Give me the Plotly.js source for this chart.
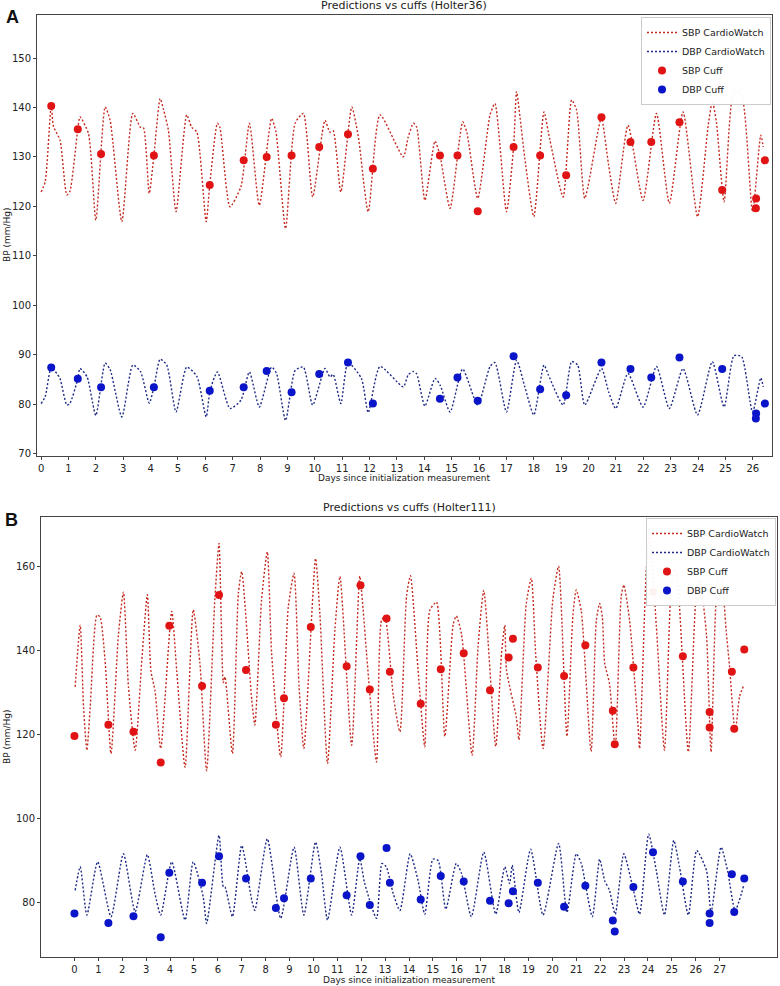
<!DOCTYPE html>
<html>
<head>
<meta charset="utf-8">
<script src="https://cdn.plot.ly/plotly-3.0.1.min.js"></script>
<style>html,body{margin:0;padding:0;background:#fff;}#chart{width:780px;height:986px;}</style>
</head>
<body>
<div id="chart"></div>
<script>
// ---------- Panel A (Holter36) ----------
const sbpA_days = [0.00,0.15,0.37,0.45,0.69,0.94,1.05,1.34,1.42,1.73,2.00,2.34,2.52,2.95,3.35,3.63,3.74,3.95,4.12,4.35,4.47,4.65,4.93,5.32,5.50,5.69,6.03,6.16,6.44,6.53,6.90,7.30,7.61,7.97,8.42,8.58,8.93,9.28,9.58,9.92,10.37,10.55,10.67,10.95,11.35,11.59,11.95,12.38,13.23,13.41,13.60,13.72,14.02,14.39,14.57,14.94,15.40,15.55,15.95,16.40,16.58,17.00,17.26,17.37,17.50,17.67,18.00,18.37,18.53,19.07,19.38,19.56,19.86,20.35,20.47,20.73,20.99,21.44,21.99,22.48,22.95,23.45,23.98,24.37,24.52,24.67,24.95,25.31,25.59,25.99,26.29,26.38];
const sbpA_vals = [122.9,125.0,140.5,136.2,133.4,122.3,123.0,135.6,138.1,134.7,117.2,140.1,137.4,116.9,138.8,136.0,135.9,122.6,130.3,141.8,139.6,135.4,118.9,138.5,136.0,135.0,116.9,124.3,136.8,136.0,119.9,124.0,136.8,120.2,137.8,135.0,115.5,136.8,138.8,121.9,137.4,135.0,135.3,122.9,140.1,134.0,118.9,138.5,130.0,134.0,136.8,136.0,121.2,133.2,130.3,119.6,137.1,135.0,121.6,138.5,140.8,118.9,132.0,143.2,137.8,129.7,117.9,139.1,135.0,121.9,141.5,139.5,121.6,135.4,138.0,128.4,120.6,136.4,121.2,138.8,120.6,139.1,117.9,136.4,141.2,137.0,120.9,143.5,142.5,118.9,134.4,132.0];
const dbpA_days = [0.00,0.15,0.37,0.57,0.69,0.94,1.05,1.34,1.42,1.68,2.00,2.34,2.52,2.95,3.35,3.63,3.95,4.12,4.35,4.59,4.93,5.32,5.69,6.03,6.17,6.44,6.90,7.30,7.61,7.97,8.42,8.60,8.93,9.28,9.58,9.92,10.37,10.55,10.67,10.95,11.21,11.70,11.95,12.38,13.23,13.41,13.60,13.72,14.02,14.39,14.58,14.94,15.40,15.95,16.40,16.58,17.00,17.37,17.67,18.00,18.37,18.53,19.07,19.38,19.60,19.86,20.47,20.73,20.99,21.44,21.99,22.48,22.95,23.45,23.98,24.52,24.95,25.31,25.59,25.99,26.29,26.38];
const dbpA_vals = [80.1,81.5,87.4,86.2,85.2,79.8,80.1,85.1,87.2,85.5,77.7,88.3,87.0,77.4,87.9,86.6,80.2,83.4,89.1,87.9,78.4,87.5,85.6,77.4,82.7,86.5,79.1,80.8,86.5,79.4,87.5,86.2,76.7,86.8,87.5,79.8,87.2,85.5,86.0,80.1,88.4,85.2,78.3,87.6,83.5,85.9,86.6,86.1,79.6,85.2,83.8,78.4,87.1,79.8,87.6,88.4,78.4,88.9,83.5,77.8,87.9,85.9,79.8,88.6,87.9,79.8,87.2,82.5,79.1,86.2,79.4,87.6,79.1,87.2,77.8,88.6,79.4,89.8,89.6,78.4,85.3,83.5];
const cuffA_days = [0.37,1.34,2.19,4.12,6.16,7.40,8.24,9.15,10.16,11.21,12.12,14.57,15.21,15.95,17.26,18.23,19.18,20.47,21.53,22.29,23.32,24.88,26.12,26.11,26.44];
const cuffA_sbp = [140.3,135.6,130.6,130.3,124.3,129.3,130.0,130.3,132.0,134.6,127.6,130.3,130.3,119.0,132.0,130.3,126.3,138.0,133.0,133.0,137.0,123.3,121.6,119.6,129.3];
const cuffA_dbp = [87.4,85.1,83.4,83.4,82.7,83.4,86.7,82.4,86.1,88.4,80.1,81.1,85.4,80.7,89.7,83.0,81.8,88.4,87.1,85.4,89.4,87.1,78.1,77.1,80.1];
const ticksA_x = [0,1,2,3,4,5,6,7,8,9,10,11,12,13,14,15,16,17,18,19,20,21,22,23,24,25,26];
const ticksA_y = [70,80,90,100,110,120,130,140,150];

// ---------- Panel B (Holter111) ----------
const sbpB_days = [0.03,0.24,0.38,0.52,0.66,0.94,1.07,1.28,1.53,1.84,2.05,2.26,2.54,2.82,3.05,3.20,3.37,3.61,4.07,4.28,4.63,4.97,5.25,5.53,5.88,6.05,6.23,6.30,6.61,6.86,7.00,7.42,7.55,7.83,8.07,8.25,8.63,8.95,9.19,9.40,9.60,10.09,10.27,10.59,10.90,11.11,11.60,11.94,12.08,12.22,12.64,12.85,12.99,13.34,13.62,13.90,14.06,14.38,14.66,14.87,15.15,15.50,15.85,15.98,16.20,16.64,16.89,17.13,17.63,17.87,18.01,18.08,18.49,18.60,18.91,19.12,19.30,19.61,20.02,20.26,20.61,20.86,21.00,21.21,21.62,21.84,21.98,22.09,22.19,22.39,22.63,22.88,22.99,23.23,23.58,23.65,23.93,24.07,24.35,24.69,24.97,25.11,25.25,25.69,26.03,26.17,26.45,26.64,26.92,27.06,27.27,27.41,27.65,27.83,28.01];
const sbpB_vals = [131.4,146.1,126.6,116.3,126.6,148.5,148.1,137.8,115.5,143.8,154.0,131.4,116.3,137.8,153.4,135.2,130.5,116.7,149.4,135.2,112.2,149.8,137.1,111.4,152.8,165.6,132.4,133.8,115.5,153.7,158.9,128.3,122.3,152.1,163.6,139.5,114.7,150.5,158.5,131.4,116.7,162.0,148.9,113.1,145.0,157.7,117.5,157.8,149.9,139.6,113.5,147.3,148.1,129.4,120.7,153.2,157.9,135.4,117.1,149.6,151.6,119.6,146.3,148.3,143.9,115.1,141.0,154.4,117.2,139.3,146.1,135.4,124.2,118.8,151.4,157.3,139.3,116.7,152.2,160.2,119.6,148.5,154.5,149.4,116.0,147.3,151.3,148.1,137.0,132.2,116.7,152.9,155.7,147.3,122.4,116.7,159.3,167.2,146.0,116.3,155.3,159.5,155.9,115.9,154.1,156.8,143.7,115.9,156.8,158.0,144.9,136.5,120.6,129.0,131.8];
const dbpB_days = [0.03,0.24,0.52,0.97,1.53,2.05,2.54,3.05,3.37,3.61,4.07,4.63,4.97,5.39,5.53,6.05,6.23,6.30,6.61,7.00,7.42,7.55,8.07,8.63,9.19,9.60,10.09,10.34,10.59,11.11,11.60,11.94,12.14,12.64,12.87,13.05,13.34,13.62,14.05,14.38,14.66,15.00,15.22,15.54,15.98,16.20,16.61,17.13,17.63,18.01,18.21,18.32,18.60,19.09,19.61,20.26,20.61,21.00,21.21,21.67,21.98,22.19,22.39,22.63,22.99,23.39,23.65,24.03,24.35,24.69,25.08,25.32,25.69,26.04,26.45,26.64,27.06,27.33,27.65,28.01];
const dbpB_vals = [82.9,88.5,77.0,89.7,76.6,91.6,77.8,91.4,82.1,77.0,89.7,75.8,89.7,81.3,75.0,96.0,83.7,83.7,76.6,93.6,80.5,78.1,95.2,76.2,93.2,77.0,94.4,86.8,75.8,93.2,77.0,90.5,84.7,76.2,89.3,88.5,82.1,78.1,91.6,85.2,77.2,90.3,90.0,78.4,89.3,86.9,76.6,92.0,77.2,88.5,84.5,88.9,77.6,92.7,77.0,94.1,77.6,91.6,89.3,76.6,90.3,85.2,82.9,77.2,91.6,83.0,77.2,96.3,87.6,77.0,94.8,88.5,77.0,92.4,87.6,77.6,93.2,87.6,78.1,84.1];
const cuffB_days = [0,1.42,2.47,3.61,3.97,5.34,6.05,7.18,8.43,8.77,9.89,11.39,11.97,12.36,13.06,13.20,14.49,15.33,16.29,17.39,18.17,18.35,19.39,20.49,21.38,22.53,22.61,23.39,24.21,25.46,26.58,26.58,27.51,27.61,28.03];
const cuffB_sbp = [119.7,122.4,120.7,113.4,146.0,131.6,153.3,135.4,122.4,128.7,145.7,136.3,155.6,130.8,147.7,135.0,127.4,135.6,139.4,130.6,138.4,142.9,136.0,134.0,141.3,125.7,117.7,136.0,154.0,138.7,125.4,121.7,135.0,121.4,140.3];
const cuffB_dbp = [77.4,75.1,76.7,71.7,87.1,84.7,91.0,85.7,78.7,81.0,85.7,81.7,91.0,79.4,93.0,84.7,80.7,86.3,85.0,80.4,79.8,82.7,84.7,79.0,84.0,75.7,73.1,83.7,92.0,85.0,77.4,75.1,86.7,77.7,85.7];
const ticksB_x = [0,1,2,3,4,5,6,7,8,9,10,11,12,13,14,15,16,17,18,19,20,21,22,23,24,25,26,27];
const ticksB_y = [80,100,120,140,160];

const W = 780, H = 986;
const px = x => x / W, py = y => 1 - y / H;

const SBP_LINE = '#c42a20', DBP_LINE = '#1c2a86';
const SBP_MK = '#e01414', DBP_MK = '#0a14c8';
const dotted = '2px,2px';

function lineTrace(x, y, name, color, xa, ya, legend) {
  return {x, y, name, type: 'scatter', mode: 'lines', xaxis: xa, yaxis: ya, legend,
    showlegend: true, line: {color, width: 1.4, dash: dotted, shape: 'spline', smoothing: 0.6}, hoverinfo: 'skip'};
}
function cuffTrace(x, y, name, color, xa, ya, legend) {
  return {x, y, name, type: 'scatter', mode: 'markers', xaxis: xa, yaxis: ya, legend,
    showlegend: true, marker: {color, size: 8, line: {width: 0}}};
}

const data = [
  lineTrace(sbpA_days, sbpA_vals, 'SBP CardioWatch', SBP_LINE, 'x', 'y', 'legend'),
  lineTrace(dbpA_days, dbpA_vals, 'DBP CardioWatch', DBP_LINE, 'x', 'y', 'legend'),
  cuffTrace(cuffA_days, cuffA_sbp, 'SBP Cuff', SBP_MK, 'x', 'y', 'legend'),
  cuffTrace(cuffA_days, cuffA_dbp, 'DBP Cuff', DBP_MK, 'x', 'y', 'legend'),
  lineTrace(sbpB_days, sbpB_vals, 'SBP CardioWatch', SBP_LINE, 'x2', 'y2', 'legend2'),
  lineTrace(dbpB_days, dbpB_vals, 'DBP CardioWatch', DBP_LINE, 'x2', 'y2', 'legend2'),
  cuffTrace(cuffB_days, cuffB_sbp, 'SBP Cuff', SBP_MK, 'x2', 'y2', 'legend2'),
  cuffTrace(cuffB_days, cuffB_dbp, 'DBP Cuff', DBP_MK, 'x2', 'y2', 'legend2')
];

const axisBase = {
  showgrid: false, zeroline: false, showline: true, linecolor: '#444', linewidth: 1, mirror: true,
  ticks: 'outside', ticklen: 3, tickwidth: 1, tickcolor: '#444',
  tickfont: {family: 'DejaVu Sans', size: 10, color: '#222'}, tickmode: 'array'
};

const FONT = 'DejaVu Sans';
const ann = (x, y, text, size, extra) => Object.assign({
  xref: 'paper', yref: 'paper', x: px(x), y: py(y), text, showarrow: false,
  font: {family: FONT, size, color: '#222'}, xanchor: 'center', yanchor: 'middle'
}, extra || {});

const legendBase = {
  bgcolor: 'rgba(255,255,255,0.95)', bordercolor: '#cccccc', borderwidth: 1,
  font: {family: FONT, size: 9.5, color: '#222'}, xref: 'paper', yref: 'paper',
  xanchor: 'right', yanchor: 'top', tracegroupgap: 0, itemwidth: 30, traceorder: 'normal'
};

const layout = {
  width: W, height: H, margin: {l: 0, r: 0, t: 0, b: 0},
  paper_bgcolor: '#fff', plot_bgcolor: '#fff', showlegend: true,
  xaxis: Object.assign({}, axisBase, {domain: [px(37), px(772)], range: [-0.15, 26.7], tickvals: ticksA_x, anchor: 'y'}),
  yaxis: Object.assign({}, axisBase, {domain: [py(456), py(15)], range: [69.5, 158.7], tickvals: ticksA_y, anchor: 'x'}),
  xaxis2: Object.assign({}, axisBase, {domain: [px(41), px(777)], range: [-1.4, 29.4], tickvals: ticksB_x, anchor: 'y2'}),
  yaxis2: Object.assign({}, axisBase, {domain: [py(957), py(517)], range: [67.0, 171.9], tickvals: ticksB_y, anchor: 'x2'}),
  legend: Object.assign({}, legendBase, {x: px(771), y: py(17)}),
  legend2: Object.assign({}, legendBase, {x: px(776), y: py(518)}),
  annotations: [
    ann(404, 6, 'Predictions vs cuffs (Holter36)', 11),
    ann(409, 508, 'Predictions vs cuffs (Holter111)', 11),
    ann(404, 478, 'Days since initialization measurement', 9),
    ann(409, 980, 'Days since initialization measurement', 9),
    ann(7, 235, 'BP (mm/Hg)', 9, {textangle: -90}),
    ann(7, 737, 'BP (mm/Hg)', 9, {textangle: -90}),
    ann(12, 17, '<b>A</b>', 18, {font: {family: 'Liberation Sans', size: 18, color: '#111'}}),
    ann(11, 520, '<b>B</b>', 18, {font: {family: 'Liberation Sans', size: 18, color: '#111'}})
  ]
};

Plotly.newPlot('chart', data, layout, {staticPlot: true, displayModeBar: false});
</script>
</body>
</html>
